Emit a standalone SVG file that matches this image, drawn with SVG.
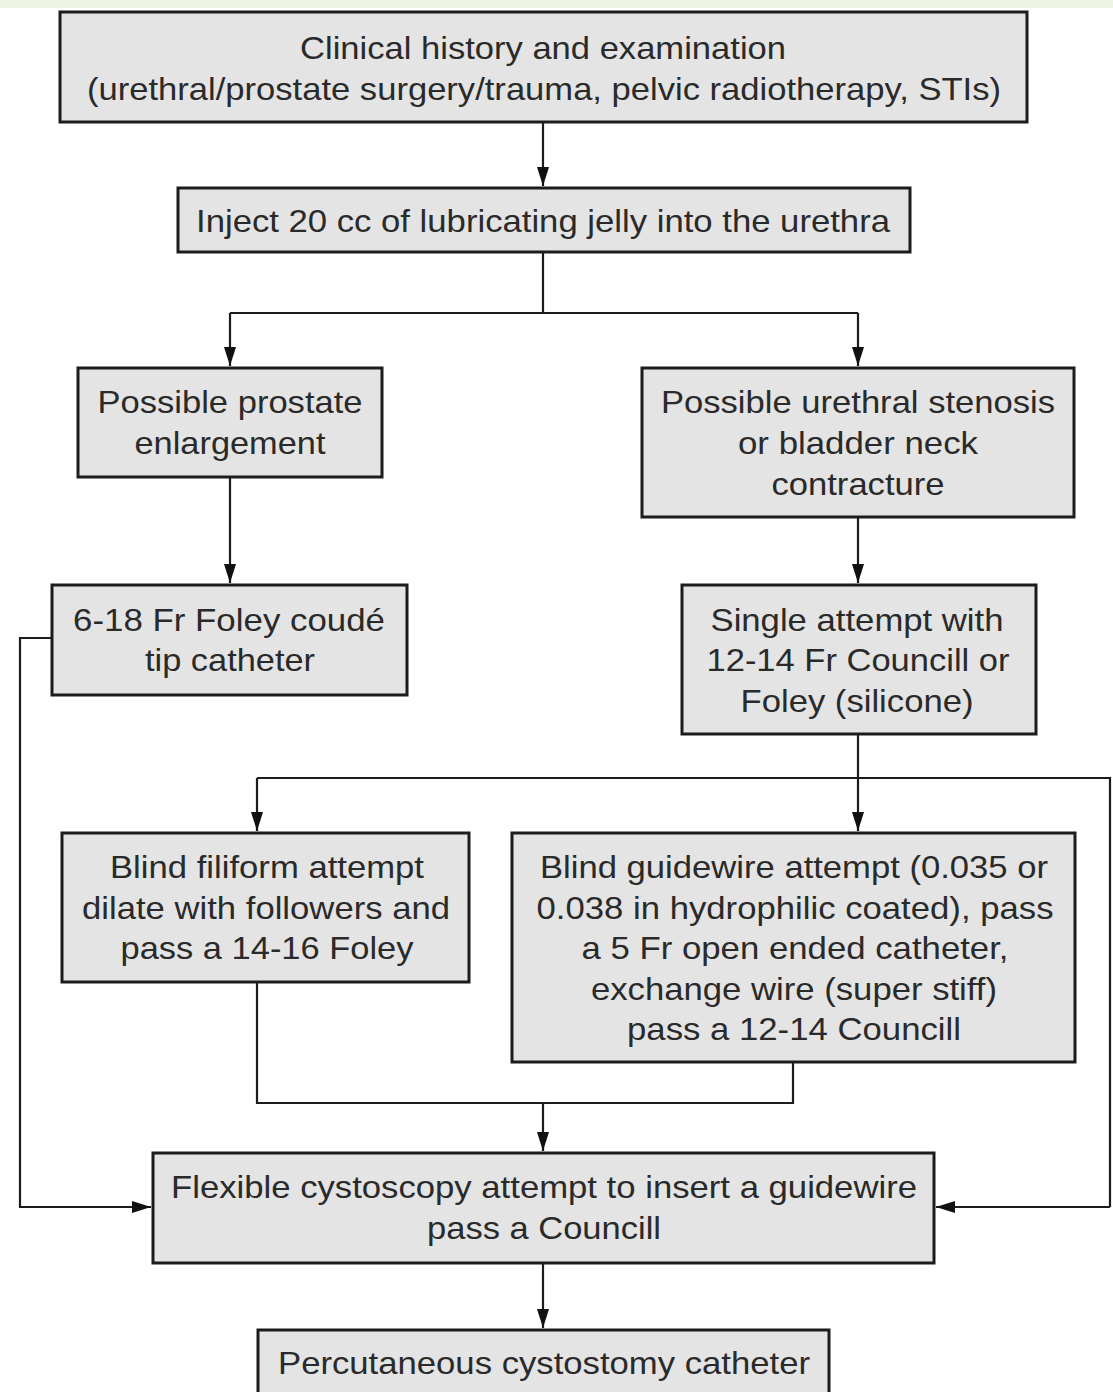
<svg xmlns="http://www.w3.org/2000/svg" width="1113" height="1392" viewBox="0 0 1113 1392">
<style>
.box{fill:#e4e4e4;stroke:#1c1c1c;stroke-width:3}
.t{font-family:"Liberation Sans",Arial,sans-serif;font-size:32px;fill:#2a2a2a;text-anchor:middle}
.c{fill:none;stroke:#1c1c1c;stroke-width:2.2}
</style>
<defs>
<marker id="ah" markerUnits="userSpaceOnUse" markerWidth="20" markerHeight="14" refX="19" refY="7" orient="auto" viewBox="0 0 20 14">
<path d="M0,1 L0,13 L19,7 Z" fill="#111"/>
</marker>
</defs>
<rect x="0" y="0" width="1113" height="1392" fill="#ffffff"/>
<rect x="0" y="0" width="1113" height="8" fill="#eef2e2"/>
<g id="connectors">
<path class="c" d="M543,122 V186" marker-end="url(#ah)"/>
<path class="c" d="M543,252 V313 M230,313 H858"/>
<path class="c" d="M230,313 V366" marker-end="url(#ah)"/>
<path class="c" d="M858,313 V366" marker-end="url(#ah)"/>
<path class="c" d="M230,477 V583" marker-end="url(#ah)"/>
<path class="c" d="M858,517 V583" marker-end="url(#ah)"/>
<path class="c" d="M858,734 V778 M257,778 H1110 V1207"/>
<path class="c" d="M257,778 V831" marker-end="url(#ah)"/>
<path class="c" d="M858,778 V831" marker-end="url(#ah)"/>
<path class="c" d="M257,982 V1103 H793 V1062"/>
<path class="c" d="M543,1103 V1151" marker-end="url(#ah)"/>
<path class="c" d="M52,638 H20 V1207 H151" marker-end="url(#ah)"/>
<path class="c" d="M1110,1207 H936" marker-end="url(#ah)"/>
<path class="c" d="M543,1263 V1328" marker-end="url(#ah)"/>
</g>
<g id="n1">
<rect class="box" x="60" y="12" width="967" height="110"/>
<text class="t" x="543" y="59" textLength="486" lengthAdjust="spacingAndGlyphs">Clinical history and examination</text>
<text class="t" x="544" y="100" textLength="914" lengthAdjust="spacingAndGlyphs">(urethral/prostate surgery/trauma, pelvic radiotherapy, STIs)</text>
</g>
<g id="n2">
<rect class="box" x="178" y="188" width="732" height="64"/>
<text class="t" x="543" y="232" textLength="694" lengthAdjust="spacingAndGlyphs">Inject 20 cc of lubricating jelly into the urethra</text>
</g>
<g id="n3">
<rect class="box" x="78" y="368" width="304" height="109"/>
<text class="t" x="230" y="413" textLength="265" lengthAdjust="spacingAndGlyphs">Possible prostate</text>
<text class="t" x="230" y="454" textLength="191" lengthAdjust="spacingAndGlyphs">enlargement</text>
</g>
<g id="n4">
<rect class="box" x="642" y="368" width="432" height="149"/>
<text class="t" x="858" y="413" textLength="394" lengthAdjust="spacingAndGlyphs">Possible urethral stenosis</text>
<text class="t" x="858" y="454" textLength="240" lengthAdjust="spacingAndGlyphs">or bladder neck</text>
<text class="t" x="858" y="495" textLength="173" lengthAdjust="spacingAndGlyphs">contracture</text>
</g>
<g id="n5">
<rect class="box" x="52" y="585" width="355" height="110"/>
<text class="t" x="229" y="631" textLength="312" lengthAdjust="spacingAndGlyphs">6-18 Fr Foley coudé</text>
<text class="t" x="230" y="671" textLength="170" lengthAdjust="spacingAndGlyphs">tip catheter</text>
</g>
<g id="n6">
<rect class="box" x="682" y="585" width="354" height="149"/>
<text class="t" x="857" y="631" textLength="293" lengthAdjust="spacingAndGlyphs">Single attempt with</text>
<text class="t" x="858" y="671" textLength="303" lengthAdjust="spacingAndGlyphs">12-14 Fr Councill or</text>
<text class="t" x="857" y="712" textLength="233" lengthAdjust="spacingAndGlyphs">Foley (silicone)</text>
</g>
<g id="n7">
<rect class="box" x="62" y="833" width="407" height="149"/>
<text class="t" x="267" y="878" textLength="314" lengthAdjust="spacingAndGlyphs">Blind filiform attempt</text>
<text class="t" x="266" y="919" textLength="368" lengthAdjust="spacingAndGlyphs">dilate with followers and</text>
<text class="t" x="267" y="959" textLength="293" lengthAdjust="spacingAndGlyphs">pass a 14-16 Foley</text>
</g>
<g id="n8">
<rect class="box" x="512" y="833" width="563" height="229"/>
<text class="t" x="794" y="878" textLength="508" lengthAdjust="spacingAndGlyphs">Blind guidewire attempt (0.035 or</text>
<text class="t" x="795" y="919" textLength="517" lengthAdjust="spacingAndGlyphs">0.038 in hydrophilic coated), pass</text>
<text class="t" x="795" y="959" textLength="427" lengthAdjust="spacingAndGlyphs">a 5 Fr open ended catheter,</text>
<text class="t" x="794" y="1000" textLength="406" lengthAdjust="spacingAndGlyphs">exchange wire (super stiff)</text>
<text class="t" x="794" y="1040" textLength="334" lengthAdjust="spacingAndGlyphs">pass a 12-14 Councill</text>
</g>
<g id="n9">
<rect class="box" x="153" y="1153" width="781" height="110"/>
<text class="t" x="544" y="1198" textLength="746" lengthAdjust="spacingAndGlyphs">Flexible cystoscopy attempt to insert a guidewire</text>
<text class="t" x="544" y="1239" textLength="234" lengthAdjust="spacingAndGlyphs">pass a Councill</text>
</g>
<g id="n10">
<rect class="box" x="258" y="1330" width="571" height="80"/>
<text class="t" x="544" y="1374" textLength="532" lengthAdjust="spacingAndGlyphs">Percutaneous cystostomy catheter</text>
</g>
</svg>
